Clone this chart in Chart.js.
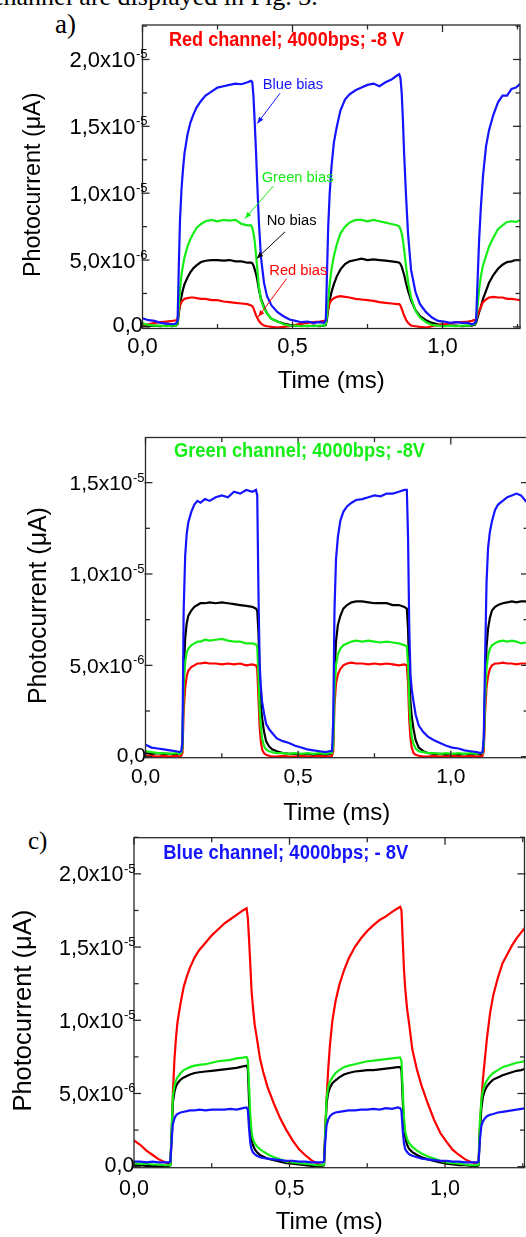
<!DOCTYPE html>
<html>
<head>
<meta charset="utf-8">
<script src="https://cdn.jsdelivr.net/npm/chart.js@4/dist/chart.umd.min.js"></script>
<style>
html,body{margin:0;padding:0;background:#fff;overflow:hidden;width:526px;height:1237px;position:relative;}
canvas{position:absolute;left:0;}
.txt{position:absolute;font-family:"Liberation Serif","Times New Roman",serif;color:#000;white-space:nowrap;line-height:1;}
</style>
</head>
<body>
<div class="txt" style="left:-8px;top:-16.5px;font-size:26px;">channel are displayed in Fig. 3.</div>
<div class="txt" style="left:55px;top:10.7px;font-size:27px;">a)</div>
<div class="txt" style="left:28px;top:828px;font-size:25px;">c)</div>
<canvas id="ca" width="526" height="400" style="top:0px"></canvas>
<canvas id="cb" width="540" height="432" style="top:400px"></canvas>
<canvas id="cc" width="526" height="437" style="top:800px"></canvas>
<script>
// ---------- shared time axis (ms) ----------
const timeMs = [
  0, 0.02, 0.04, 0.06, 0.08, 0.10, 0.112, 0.117, 0.121, 0.125,
  0.13, 0.135, 0.14, 0.15, 0.16, 0.17, 0.18, 0.195, 0.21, 0.23,
  0.25, 0.27, 0.29, 0.31, 0.33, 0.35, 0.362, 0.366, 0.37, 0.374,
  0.378, 0.382, 0.388, 0.395, 0.405, 0.415, 0.43, 0.45, 0.47, 0.49,
  0.51, 0.53, 0.55, 0.57, 0.59, 0.605, 0.611, 0.615, 0.619, 0.624,
  0.63, 0.638, 0.648, 0.66, 0.675, 0.69, 0.71, 0.73, 0.75, 0.77,
  0.79, 0.81, 0.83, 0.848, 0.856, 0.86, 0.864, 0.868, 0.872, 0.878,
  0.885, 0.895, 0.91, 0.925, 0.945, 0.965, 0.985, 1.005, 1.025, 1.045,
  1.065, 1.085, 1.098, 1.104, 1.108, 1.112, 1.117, 1.122, 1.128, 1.135,
  1.145, 1.155, 1.17, 1.185, 1.2, 1.215, 1.23, 1.245, 1.26
];

// ---------- panel a: Red channel (values in units of 1e-6) ----------
const aBlue = [
  0.65, 0.5, 0.45, 0.3, 0.25, 0.2, 0.25, 0.5, 4.5, 8.0,
  10.3, 11.8, 13.0, 14.4, 15.3, 15.9, 16.4, 16.9, 17.3, 17.6,
  17.9, 18.0, 18.1, 18.2, 18.15, 18.3, 18.4, 18.3, 17.2, 15.3,
  13.3, 11.0, 7.8, 5.2, 3.3, 2.3, 1.6, 1.1, 0.8, 0.55,
  0.45, 0.35, 0.4, 0.3, 0.35, 0.3, 0.5, 4.0, 7.5, 10.0,
  12.0, 13.8, 15.0, 16.2, 17.0, 17.4, 17.7, 17.9, 18.1, 18.2,
  18.0, 18.3, 18.5, 18.8, 18.9, 18.6, 17.5, 15.5, 13.0, 10.0,
  7.0, 4.3, 2.6, 1.7, 1.1, 0.7, 0.45, 0.4, 0.3, 0.35,
  0.3, 0.3, 0.2, 0.25, 0.3, 0.5, 3.5, 6.5, 9.0, 11.3,
  13.5, 14.7, 15.9, 16.8, 17.3, 17.3, 17.8, 17.9, 18.2
];
const aGreen = [
  0.25, 0.15, 0.1, 0.1, 0.05, 0.1, 0.1, 0.3, 1.5, 2.8,
  3.9, 4.6, 5.2, 6.0, 6.6, 7.0, 7.4, 7.7, 7.9, 8.0,
  7.9, 8.0, 7.95, 8.0, 7.7, 7.6, 7.6, 7.4, 7.0, 6.4,
  5.5, 4.5, 3.0, 2.0, 1.4, 1.0, 0.6, 0.4, 0.2, 0.1,
  0.1, 0.05, 0.1, 0.05, 0.1, 0.1, 0.2, 0.8, 2.0, 3.2,
  4.3, 5.3, 6.2, 7.0, 7.5, 7.8, 8.0, 8.0, 7.9, 8.0,
  7.9, 7.8, 7.7, 7.6, 7.5, 7.3, 7.0, 6.5, 5.8, 4.6,
  3.4, 2.2, 1.2, 0.7, 0.35, 0.15, 0.1, 0.05, 0.1, 0.05,
  0.1, 0.1, 0.15, 0.2, 0.2, 0.5, 1.6, 2.8, 3.8, 4.6,
  5.3, 6.0, 6.7, 7.3, 7.6, 7.85, 7.9, 7.85, 8.0
];
const aBlack = [
  0.1, 0.05, 0.1, 0.05, 0.1, 0.05, 0.1, 0.2, 1.0, 1.7,
  2.3, 2.8, 3.2, 3.7, 4.1, 4.4, 4.6, 4.85, 4.95, 5.0,
  5.0, 4.95, 5.0, 4.9, 4.9, 4.8, 4.8, 4.75, 4.6, 4.3,
  4.0, 3.6, 2.8, 2.1, 1.5, 1.0, 0.6, 0.4, 0.25, 0.15,
  0.1, 0.1, 0.05, 0.1, 0.05, 0.1, 0.15, 0.6, 1.3, 2.0,
  2.6, 3.2, 3.8, 4.3, 4.7, 4.9, 5.0, 5.1, 5.0, 5.05,
  5.0, 4.95, 4.9, 4.85, 4.8, 4.7, 4.5, 4.2, 3.9, 3.3,
  2.7, 2.0, 1.25, 0.8, 0.5, 0.3, 0.2, 0.15, 0.1, 0.1,
  0.05, 0.1, 0.1, 0.15, 0.15, 0.3, 0.7, 1.1, 1.5, 2.1,
  2.7, 3.3, 3.9, 4.35, 4.65, 4.85, 4.9, 5.0, 5.0
];
const aRed = [
  0.15, 0.2, 0.3, 0.35, 0.4, 0.45, 0.5, 0.6, 1.2, 1.6,
  1.85, 2.0, 2.1, 2.15, 2.2, 2.2, 2.15, 2.1, 2.1, 2.0,
  2.0, 1.9, 1.85, 1.8, 1.75, 1.7, 1.6, 1.55, 1.4, 1.15,
  0.9, 0.7, 0.45, 0.25, 0.1, 0.05, 0.0, -0.05, 0.0, 0.05,
  0.15, 0.25, 0.3, 0.35, 0.4, 0.45, 0.5, 0.9, 1.4, 1.8,
  2.0, 2.15, 2.25, 2.3, 2.25, 2.2, 2.1, 2.05, 2.0, 1.95,
  1.85, 1.8, 1.75, 1.7, 1.7, 1.6, 1.35, 1.1, 0.85, 0.55,
  0.3, 0.1, 0.05, 0.0, -0.05, 0.05, 0.15, 0.2, 0.25, 0.35,
  0.35, 0.4, 0.45, 0.5, 0.5, 0.6, 0.9, 1.2, 1.5, 1.85,
  2.05, 2.2, 2.25, 2.2, 2.2, 2.1, 2.1, 2.05, 2.0
];

// ---------- panel b: Green channel ----------
const bBlue = [
  0.65, 0.5, 0.45, 0.4, 0.35, 0.3, 0.25, 0.3, 0.8, 8.0,
  11.0, 12.2, 12.8, 13.4, 13.8, 14.0, 13.9, 14.1, 14.0, 14.2,
  14.3, 14.2, 14.5, 14.4, 14.6, 14.5, 14.6, 14.3, 9.0, 5.0,
  3.8, 3.0, 2.4, 1.8, 1.5, 1.3, 1.0, 0.85, 0.75, 0.6,
  0.5, 0.4, 0.35, 0.3, 0.25, 0.3, 0.3, 2.0, 8.0, 10.8,
  12.0, 12.9, 13.4, 13.7, 13.9, 14.05, 14.1, 14.2, 14.3, 14.25,
  14.4, 14.4, 14.5, 14.6, 14.6, 12.0, 7.0, 4.5, 3.7, 3.0,
  2.3, 1.7, 1.35, 1.1, 0.9, 0.75, 0.6, 0.5, 0.45, 0.35,
  0.3, 0.25, 0.2, 0.25, 1.0, 5.0, 9.5, 11.4, 12.3, 12.9,
  13.5, 13.8, 14.0, 14.2, 14.3, 14.4, 14.3, 14.0, 14.2
];
const bGreen = [
  0.3, 0.25, 0.2, 0.2, 0.15, 0.2, 0.15, 0.2, 0.5, 3.8,
  5.2, 5.7, 5.9, 6.1, 6.2, 6.3, 6.3, 6.4, 6.35, 6.4,
  6.45, 6.35, 6.3, 6.3, 6.2, 6.2, 6.15, 6.0, 4.5, 2.6,
  1.6, 1.0, 0.6, 0.4, 0.3, 0.25, 0.2, 0.2, 0.15, 0.2,
  0.15, 0.2, 0.15, 0.2, 0.15, 0.2, 0.2, 0.6, 3.6, 5.0,
  5.6, 5.9, 6.1, 6.2, 6.3, 6.35, 6.3, 6.35, 6.3, 6.25,
  6.3, 6.25, 6.2, 6.1, 6.05, 5.0, 3.0, 1.8, 1.1, 0.7,
  0.45, 0.3, 0.25, 0.2, 0.2, 0.15, 0.2, 0.15, 0.2, 0.15,
  0.2, 0.15, 0.2, 0.2, 0.6, 3.0, 4.8, 5.5, 5.9, 6.1,
  6.2, 6.3, 6.35, 6.3, 6.35, 6.3, 6.2, 6.25, 6.2
];
const bBlack = [
  0.2, 0.15, 0.2, 0.15, 0.15, 0.1, 0.15, 0.15, 0.5, 4.5,
  6.5, 7.3, 7.7, 8.0, 8.2, 8.3, 8.4, 8.4, 8.45, 8.4,
  8.45, 8.4, 8.35, 8.3, 8.25, 8.2, 8.1, 8.0, 6.8, 4.5,
  2.8, 2.1, 1.4, 0.85, 0.55, 0.4, 0.3, 0.2, 0.15, 0.15,
  0.1, 0.15, 0.1, 0.15, 0.1, 0.15, 0.15, 0.8, 4.5, 6.3,
  7.2, 7.7, 8.1, 8.3, 8.45, 8.5, 8.5, 8.45, 8.4, 8.4,
  8.4, 8.3, 8.3, 8.2, 8.1, 7.0, 4.5, 3.0, 2.2, 1.5,
  0.9, 0.5, 0.3, 0.2, 0.15, 0.15, 0.1, 0.15, 0.1, 0.15,
  0.1, 0.15, 0.1, 0.15, 0.6, 3.5, 6.0, 7.0, 7.6, 8.0,
  8.2, 8.3, 8.4, 8.45, 8.5, 8.45, 8.5, 8.5, 8.45
];
const bRed = [
  0.05, 0.05, 0.0, 0.05, 0.0, 0.05, 0.0, 0.05, 0.2, 2.5,
  3.8, 4.4, 4.7, 4.9, 5.0, 5.1, 5.1, 5.15, 5.1, 5.1,
  5.05, 5.1, 5.05, 5.1, 5.0, 5.05, 5.0, 4.8, 3.2, 1.6,
  0.8, 0.4, 0.2, 0.1, 0.05, 0.0, 0.0, 0.05, 0.0, 0.0,
  0.05, 0.0, 0.0, 0.05, 0.0, 0.0, 0.05, 0.3, 2.8, 4.0,
  4.5, 4.8, 5.0, 5.1, 5.15, 5.1, 5.1, 5.05, 5.1, 5.05,
  5.1, 5.05, 5.0, 5.05, 5.0, 4.0, 2.0, 1.0, 0.5, 0.2,
  0.1, 0.05, 0.0, 0.0, 0.05, 0.0, 0.0, 0.05, 0.0, 0.0,
  0.05, 0.0, 0.0, 0.05, 0.3, 2.3, 3.8, 4.4, 4.8, 5.0,
  5.1, 5.1, 5.15, 5.1, 5.1, 5.05, 5.1, 5.1, 5.05
];

// ---------- panel c: Blue channel ----------
const cRed = [
  1.8, 1.5, 1.1, 0.8, 0.5, 0.3, 0.2, 0.2, 2.0, 5.0,
  7.3, 8.8, 9.9, 11.2, 12.3, 13.0, 13.6, 14.3, 14.8, 15.3,
  15.8, 16.2, 16.6, 16.9, 17.2, 17.5, 17.65, 17.0, 15.5, 13.8,
  12.0, 11.0, 9.7, 8.8, 7.4, 6.5, 5.4, 4.3, 3.3, 2.5,
  1.8, 1.2, 0.8, 0.45, 0.2, 0.1, 0.2, 2.5, 4.5, 6.5,
  8.3, 10.0, 11.3, 12.4, 13.4, 14.2, 15.0, 15.6, 16.1, 16.5,
  16.85, 17.1, 17.4, 17.65, 17.75, 17.5, 15.5, 13.5, 12.2, 10.8,
  9.7, 8.0, 6.6, 5.5, 4.3, 3.2, 2.3, 1.7, 1.15, 0.8,
  0.5, 0.3, 0.25, 0.3, 0.3, 2.5, 4.5, 6.0, 7.3, 8.8,
  10.5, 11.7, 12.9, 13.9, 14.5, 15.1, 15.6, 16.0, 16.4
];
const cGreen = [
  0.25, 0.2, 0.2, 0.15, 0.15, 0.1, 0.1, 0.1, 2.5, 4.8,
  5.5, 5.9, 6.1, 6.4, 6.6, 6.7, 6.8, 6.9, 6.95, 7.0,
  7.1, 7.2, 7.25, 7.3, 7.4, 7.45, 7.5, 7.3, 5.5, 3.5,
  2.4, 1.9, 1.6, 1.4, 1.2, 1.05, 0.85, 0.65, 0.5, 0.35,
  0.3, 0.25, 0.2, 0.15, 0.1, 0.1, 0.15, 2.5, 4.6, 5.4,
  5.8, 6.1, 6.4, 6.6, 6.8, 6.9, 7.0, 7.1, 7.2, 7.25,
  7.3, 7.35, 7.4, 7.45, 7.45, 7.2, 5.3, 3.4, 2.4, 1.9,
  1.6, 1.35, 1.1, 0.9, 0.7, 0.55, 0.4, 0.3, 0.25, 0.2,
  0.15, 0.1, 0.1, 0.1, 0.15, 3.0, 4.6, 5.2, 5.6, 5.9,
  6.2, 6.4, 6.6, 6.8, 6.9, 7.0, 7.1, 7.15, 7.25
];
const cBlack = [
  0.1, 0.1, 0.05, 0.05, 0.0, 0.05, 0.05, 0.1, 2.3, 4.4,
  5.1, 5.5, 5.7, 5.95, 6.1, 6.2, 6.3, 6.4, 6.45, 6.5,
  6.55, 6.6, 6.65, 6.7, 6.75, 6.85, 6.9, 6.7, 4.5, 2.7,
  1.9, 1.5, 1.2, 1.0, 0.8, 0.7, 0.55, 0.45, 0.35, 0.25,
  0.2, 0.15, 0.1, 0.05, 0.05, 0.05, 0.1, 2.2, 4.3, 5.0,
  5.4, 5.7, 5.9, 6.1, 6.3, 6.4, 6.5, 6.55, 6.6, 6.6,
  6.65, 6.7, 6.75, 6.8, 6.8, 6.6, 4.6, 2.8, 2.0, 1.5,
  1.2, 1.0, 0.8, 0.65, 0.5, 0.4, 0.3, 0.2, 0.15, 0.1,
  0.1, 0.05, 0.05, 0.05, 0.1, 2.5, 4.0, 4.8, 5.2, 5.5,
  5.75, 5.95, 6.1, 6.25, 6.35, 6.45, 6.55, 6.6, 6.7
];
const cBlue = [
  0.35, 0.35, 0.3, 0.35, 0.3, 0.3, 0.3, 0.35, 1.8, 2.9,
  3.3, 3.5, 3.6, 3.7, 3.75, 3.8, 3.85, 3.85, 3.9, 3.85,
  3.9, 3.9, 3.9, 3.95, 3.9, 4.0, 4.05, 3.9, 2.6, 1.6,
  1.2, 1.0, 0.85, 0.75, 0.65, 0.6, 0.55, 0.5, 0.45, 0.4,
  0.4, 0.35, 0.35, 0.3, 0.3, 0.3, 0.35, 1.7, 2.8, 3.2,
  3.45, 3.6, 3.7, 3.75, 3.8, 3.85, 3.85, 3.9, 3.9, 3.95,
  3.9, 4.0, 3.95, 4.05, 4.0, 3.8, 2.5, 1.6, 1.2, 1.0,
  0.85, 0.75, 0.65, 0.55, 0.5, 0.45, 0.4, 0.4, 0.35, 0.35,
  0.3, 0.3, 0.3, 0.3, 0.35, 1.8, 2.8, 3.1, 3.3, 3.45,
  3.55, 3.6, 3.7, 3.75, 3.8, 3.85, 3.9, 3.95, 4.0
];

// ---------- tick values and labels ----------
const xMajorTicks = [0, 0.5, 1.0];
const xMajorLabels = ['0,0', '0,5', '1,0'];
const xMinorTicks = [0.25, 0.75, 1.25];
const yMajorTicks = [0, 5, 10, 15, 20];          // in units of 1e-6
const yMajorLabels = ['0,0', '5,0x10', '1,0x10', '1,5x10', '2,0x10'];
const yExponents = ['', '-6', '-5', '-5', '-5'];
const yMinorTicks = [2.5, 7.5, 12.5, 17.5, 22.5];
const annotationTexts = ['Blue bias', 'Green bias', 'No bias', 'Red bias'];

const BLUE = '#1414ff', GREEN = '#14ee14', RED = '#ff0000', BLACK = '#000000';
const SANS = '"Liberation Sans", Arial, sans-serif';

const framePlugin = {
  id: 'frame',
  afterDatasetsDraw(chart, args, o) {
    const ctx = chart.ctx;
    const ca = chart.chartArea;
    const xs = chart.scales.x, ys = chart.scales.y;
    ctx.save();
    ctx.strokeStyle = '#2a2a2a';
    ctx.lineWidth = 1.3;
    ctx.strokeRect(ca.left, ca.top, ca.right - ca.left, ca.bottom - ca.top);
    const seg = (x1, y1, x2, y2) => { ctx.beginPath(); ctx.moveTo(x1, y1); ctx.lineTo(x2, y2); ctx.stroke(); };
    const inY = y => y >= ca.top - 0.5 && y <= ca.bottom + 0.5;
    const inX = x => x >= ca.left - 0.5 && x <= ca.right + 0.5;
    yMajorTicks.forEach(v => { const y = ys.getPixelForValue(v); if (!inY(y)) return;
      seg(ca.left - 1, y, ca.left + 7, y); seg(ca.right + 1, y, ca.right - 7, y); });
    yMinorTicks.forEach(v => { const y = ys.getPixelForValue(v); if (!inY(y)) return;
      seg(ca.left, y, ca.left + 4.5, y); seg(ca.right, y, ca.right - 4.5, y); });
    xMajorTicks.forEach(v => { const x = xs.getPixelForValue(v); if (!inX(x)) return;
      seg(x, ca.bottom, x, ca.bottom - 7); seg(x, ca.top, x, ca.top + 7); });
    xMinorTicks.forEach(v => { const x = xs.getPixelForValue(v); if (!inX(x)) return;
      seg(x, ca.bottom, x, ca.bottom - 4.5); seg(x, ca.top, x, ca.top + 4.5); });

    ctx.fillStyle = '#000';
    ctx.textBaseline = 'alphabetic';
    // x tick labels
    ctx.font = o.tickFont + 'px ' + SANS;
    ctx.textAlign = 'center';
    xMajorTicks.forEach((v, i) => ctx.fillText(xMajorLabels[i], xs.getPixelForValue(v), ca.bottom + o.xLabelDy));
    // y tick labels
    yMajorTicks.forEach((v, i) => {
      const y = ys.getPixelForValue(v);
      if (!inY(y)) return;
      ctx.font = o.tickFont + 'px ' + SANS;
      if (!yExponents[i]) { ctx.textAlign = 'right'; ctx.fillText(yMajorLabels[i], ca.left + 0.5, y + 5.5); return; }
      const xr = ca.left - o.yLabelGap;
      ctx.textAlign = 'right';
      ctx.fillText(yMajorLabels[i], xr, y + 7.5);
      ctx.textAlign = 'left';
      ctx.font = '13px ' + SANS;
      ctx.fillText(yExponents[i], xr + 0.5, y - 1);
    });
    // axis titles
    ctx.font = '24px ' + SANS;
    ctx.textAlign = 'center';
    ctx.fillText('Time (ms)', (ca.left + ca.right) / 2, ca.bottom + o.xTitleDy);
    ctx.save();
    ctx.translate(o.yTitleX, (ca.top + ca.bottom) / 2 + 8);
    ctx.rotate(-Math.PI / 2);
    ctx.font = o.yTitleFont + 'px ' + SANS;
    ctx.fillText('Photocurrent (\u03bcA)', 0, 0);
    ctx.restore();
    // header text inside the plot
    ctx.save();
    ctx.font = 'bold 20px ' + SANS;
    ctx.fillStyle = o.headColor;
    ctx.textAlign = 'left';
    const w = ctx.measureText(o.headText).width;
    ctx.translate(ca.left + o.headDx, ca.top + o.headDy);
    ctx.scale(o.headWidth / w, 1);
    ctx.fillText(o.headText, 0, 0);
    ctx.restore();
    // annotations with arrows (data coordinates)
    (o.notes || []).forEach(n => {
      ctx.fillStyle = n.color; ctx.strokeStyle = n.color; ctx.lineWidth = 1;
      ctx.font = '14.7px ' + SANS; ctx.textAlign = 'left';
      ctx.fillText(n.text, xs.getPixelForValue(n.at[0]), ys.getPixelForValue(n.at[1]));
      const x1 = xs.getPixelForValue(n.from[0]), y1 = ys.getPixelForValue(n.from[1]);
      const x2 = xs.getPixelForValue(n.to[0]), y2 = ys.getPixelForValue(n.to[1]);
      seg(x1, y1, x2, y2);
      const a = Math.atan2(y2 - y1, x2 - x1), L = 6.5, H = 2.6;
      ctx.beginPath();
      ctx.moveTo(x2, y2);
      ctx.lineTo(x2 - L * Math.cos(a) + H * Math.sin(a), y2 - L * Math.sin(a) - H * Math.cos(a));
      ctx.lineTo(x2 - L * Math.cos(a) - H * Math.sin(a), y2 - L * Math.sin(a) + H * Math.cos(a));
      ctx.closePath(); ctx.fill();
    });
    ctx.restore();
  }
};

function makePanel(id, series, pad, xMax, yMin, yMax, frameOpts) {
  return new Chart(document.getElementById(id), {
    type: 'line',
    data: {
      datasets: series.map(s => ({
        label: s.label,
        data: timeMs.map((t, i) => ({ x: t, y: s.values[i] })),
        borderColor: s.color, borderWidth: 2.2, pointRadius: 0, tension: 0, fill: false
      }))
    },
    options: {
      responsive: false, animation: false, events: [],
      layout: { padding: pad },
      plugins: { legend: { display: false }, tooltip: { enabled: false }, frame: frameOpts },
      scales: {
        x: { type: 'linear', min: 0, max: xMax, display: false },
        y: { type: 'linear', min: yMin, max: yMax, display: false }
      }
    },
    plugins: [framePlugin]
  });
}

makePanel('ca', [
  { label: annotationTexts[0], values: aBlue, color: BLUE },
  { label: annotationTexts[1], values: aGreen, color: GREEN },
  { label: annotationTexts[3], values: aRed, color: RED },
  { label: annotationTexts[2], values: aBlack, color: BLACK }
], { left: 142.5, top: 25, right: 6, bottom: 71.5 }, 1.2583, -0.12, 22.58, {
  tickFont: 22, yLabelGap: 7, xLabelDy: 24.8, xTitleDy: 59, yTitleX: 40, yTitleFont: 23.3,
  headText: 'Red channel; 4000bps; -8 V', headColor: RED, headDx: 26.5, headDy: 20.7, headWidth: 235,
  notes: [
    { text: annotationTexts[0], color: BLUE, at: [0.4007, 17.79], from: [0.4583, 17.47], to: [0.3827, 15.22] },
    { text: annotationTexts[1], color: GREEN, at: [0.3973, 10.85], from: [0.436, 10.53], to: [0.3417, 8.11] },
    { text: annotationTexts[2], color: BLACK, at: [0.414, 7.61], from: [0.475, 7.11], to: [0.3807, 5.12] },
    { text: annotationTexts[3], color: RED, at: [0.4227, 3.87], from: [0.4807, 3.62], to: [0.386, 0.75] }
  ]
});

makePanel('cb', [
  { label: 'Blue bias', values: bBlue, color: BLUE },
  { label: 'Green bias', values: bGreen, color: GREEN },
  { label: 'Red bias', values: bRed, color: RED },
  { label: 'No bias', values: bBlack, color: BLACK }
], { left: 145.5, top: 37.5, right: 12, bottom: 74.3 }, 1.2529, -0.055, 17.47, {
  tickFont: 21, yLabelGap: 13, xLabelDy: 25.6, xTitleDy: 62.3, yTitleX: 46, yTitleFont: 24.9,
  headText: 'Green channel; 4000bps; -8V', headColor: GREEN, headDx: 28.5, headDy: 19.8, headWidth: 251
});

makePanel('cc', [
  { label: 'Blue bias', values: cBlue, color: BLUE },
  { label: 'Green bias', values: cGreen, color: GREEN },
  { label: 'No bias', values: cBlack, color: BLACK },
  { label: 'Red bias', values: cRed, color: RED }
], { left: 134, top: 37.7, right: 1.5, bottom: 69.3 }, 1.2556, -0.068, 22.47, {
  tickFont: 21.5, yLabelGap: 10.5, xLabelDy: 27.3, xTitleDy: 61.3, yTitleX: 31, yTitleFont: 25.5,
  headText: 'Blue channel; 4000bps; - 8V', headColor: BLUE, headDx: 29.3, headDy: 21.3, headWidth: 245
});
</script>
</body>
</html>
